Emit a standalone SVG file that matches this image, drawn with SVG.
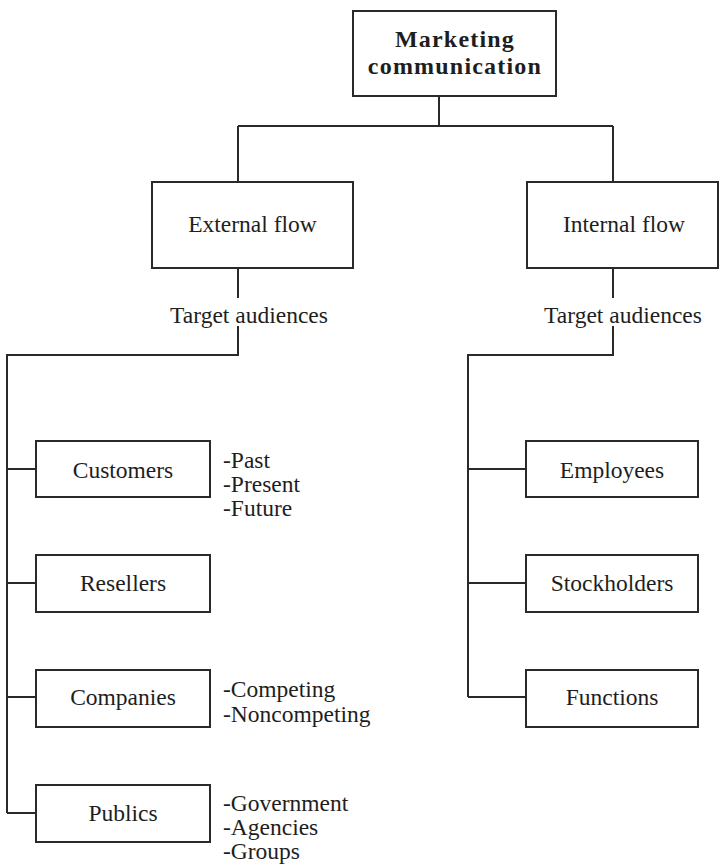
<svg xmlns="http://www.w3.org/2000/svg" width="720" height="864" viewBox="0 0 720 864">
<style>
.box{fill:#fff;stroke:#2a2a2a;stroke-width:2}
.ln{fill:none;stroke:#2a2a2a;stroke-width:2}
text{font-family:"Liberation Serif","Times New Roman",serif;fill:#1e1e1e;font-size:23.5px}
.c{text-anchor:middle}
.b{font-weight:bold;font-size:24px;letter-spacing:1.2px}
</style>
<rect width="720" height="864" fill="#fff"/>
<g id="connectors">
<path class="ln" d="M439 96V126M238 126H613M238 126V182M613 126V182"/>
<path class="ln" d="M238 268V298M238 326V355H7V813M7 469H36M7 583H36M7 697H36M7 813H36"/>
<path class="ln" d="M613 268V298M613 326V355H468V697M468 469H526M468 583H526M468 697H526"/>
</g>
<g id="marketing-communication">
<rect class="box" x="353" y="11" width="203" height="85"/>
<text class="c b" x="455" y="47">Marketing</text>
<text class="c b" x="455" y="74">communication</text>
</g>
<g id="external-flow">
<rect class="box" x="152" y="182" width="201" height="86"/>
<text class="c" x="252.5" y="232">External flow</text>
</g>
<g id="internal-flow">
<rect class="box" x="527" y="182" width="191" height="86"/>
<text class="c" x="624" y="232">Internal flow</text>
</g>
<g id="target-external">
<text class="c" x="249" y="323">Target audiences</text>
</g>
<g id="target-internal">
<text class="c" x="623" y="323">Target audiences</text>
</g>
<g id="customers">
<rect class="box" x="36" y="441" width="174" height="56"/>
<text class="c" x="123" y="478">Customers</text>
<text x="223" y="468">-Past</text>
<text x="223" y="492">-Present</text>
<text x="223" y="516">-Future</text>
</g>
<g id="resellers">
<rect class="box" x="36" y="555" width="174" height="57"/>
<text class="c" x="123" y="591">Resellers</text>
</g>
<g id="companies">
<rect class="box" x="36" y="670" width="174" height="57"/>
<text class="c" x="123" y="705">Companies</text>
<text x="223" y="697">-Competing</text>
<text x="223" y="722">-Noncompeting</text>
</g>
<g id="publics">
<rect class="box" x="36" y="785" width="174" height="57"/>
<text class="c" x="123" y="821">Publics</text>
<text x="223" y="811">-Government</text>
<text x="223" y="835">-Agencies</text>
<text x="223" y="859">-Groups</text>
</g>
<g id="employees">
<rect class="box" x="526" y="441" width="172" height="56"/>
<text class="c" x="612" y="478">Employees</text>
</g>
<g id="stockholders">
<rect class="box" x="526" y="555" width="172" height="57"/>
<text class="c" x="612" y="591">Stockholders</text>
</g>
<g id="functions">
<rect class="box" x="526" y="670" width="172" height="57"/>
<text class="c" x="612" y="705">Functions</text>
</g>
</svg>
